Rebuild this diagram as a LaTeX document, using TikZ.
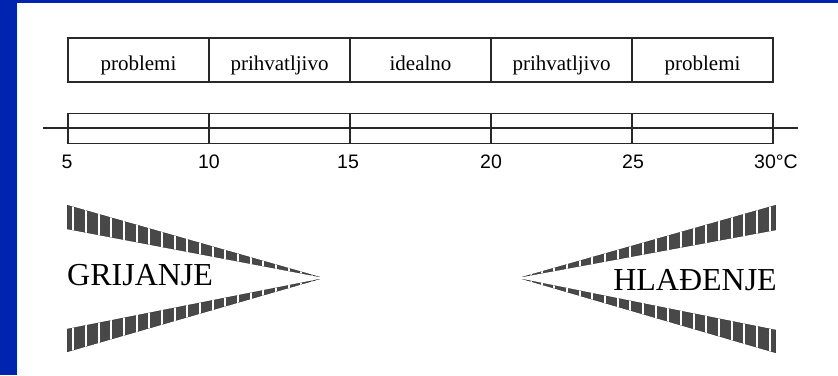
\documentclass[tikz,border=0pt]{standalone}
\usepackage{fontspec}
\setmainfont{Liberation Serif}
\newfontfamily\numfont{Liberation Sans}
\definecolor{bgblue}{RGB}{0,36,176}
\definecolor{ink}{RGB}{40,40,40}
\definecolor{barfill}{RGB}{72,72,72}
\begin{document}
\begin{tikzpicture}[x=1pt,y=-1pt,
  zone/.style={draw=ink, line width=1.2pt, minimum width=141pt, minimum height=44pt,
    inner sep=0pt, text height=22pt, text depth=2pt, font=\fontsize{21}{24}\selectfont},
  cell/.style={draw=ink, line width=1.2pt, minimum width=141pt, minimum height=30pt, inner sep=0pt},
  num/.style={font=\numfont\fontsize{19.5}{22}\selectfont, anchor=base, inner sep=0pt},
  big/.style={font=\fontsize{32}{36}\selectfont, inner sep=0pt},
  wedge/.style={fill=barfill, draw=ink, line width=0.4pt},
  gap/.style={draw=white, line width=1.8pt}]
\useasboundingbox (0,0) rectangle (838,375);
\fill[bgblue] (0,0) rectangle (838,375);
\fill[white] (17,3) rectangle (838,375);

% top zones
\node[zone] (z1) at (138.5,60) {problemi};
\node[zone] (z2) at (279.5,60) {prihvatljivo};
\node[zone] (z3) at (420.5,60) {idealno};
\node[zone] (z4) at (561.5,60) {prihvatljivo};
\node[zone] (z5) at (702.5,60) {problemi};

% scale bar
\node[cell] (c1) at (138.5,128.5) {};
\node[cell] (c2) at (279.5,128.5) {};
\node[cell] (c3) at (420.5,128.5) {};
\node[cell] (c4) at (561.5,128.5) {};
\node[cell] (c5) at (702.5,128.5) {};
\coordinate (axL) at (43,128);
\coordinate (axR) at (798,128);
\draw[ink, line width=1.2pt] (axL) -- (axR);

% scale numbers
\node[num] (n5)  at (67,168) {5};
\node[num] (n10) at (209,168) {10};
\node[num] (n15) at (348,168) {15};
\node[num] (n20) at (491,168) {20};
\node[num] (n25) at (633,168) {25};
\node[num] (n30) at (776,168) {30°C};

% heating wedge (left)
\begin{scope}
  \clip (67,205) -- (320,277) -- (67,229) -- cycle;
  \fill[wedge] (67,205) -- (320,277) -- (67,229) -- cycle;
  \foreach \gx in {73,86,99,111,124,137,149,162,175,187,200,213,225,238,251,263,276,289,301,312}
    \draw[gap] (\gx,195) -- (\gx,290);
\end{scope}
\begin{scope}
  \clip (67,329) -- (320,279) -- (67,352) -- cycle;
  \fill[wedge] (67,329) -- (320,279) -- (67,352) -- cycle;
  \foreach \gx in {73,86,99,111,124,137,149,162,175,187,200,213,225,238,251,263,276,289,301,312}
    \draw[gap] (\gx,270) -- (\gx,360);
\end{scope}
\node[big, anchor=base west] (grij) at (67,285) {GRIJANJE};

% cooling wedge (right)
\begin{scope}
  \clip (776,205) -- (522,277) -- (776,230) -- cycle;
  \fill[wedge] (776,205) -- (522,277) -- (776,230) -- cycle;
  \foreach \gx in {73,86,99,111,124,137,149,162,175,187,200,213,225,238,251,263,276,289,301,312}
    \draw[gap] ({843-\gx},195) -- ({843-\gx},290);
\end{scope}
\begin{scope}
  \clip (776,330) -- (522,279) -- (776,353) -- cycle;
  \fill[wedge] (776,330) -- (522,279) -- (776,353) -- cycle;
  \foreach \gx in {73,86,99,111,124,137,149,162,175,187,200,213,225,238,251,263,276,289,301,312}
    \draw[gap] ({843-\gx},270) -- ({843-\gx},360);
\end{scope}
\node[big, anchor=base east] (hlad) at (777,290) {HLAĐENJE};
\end{tikzpicture}
\end{document}
